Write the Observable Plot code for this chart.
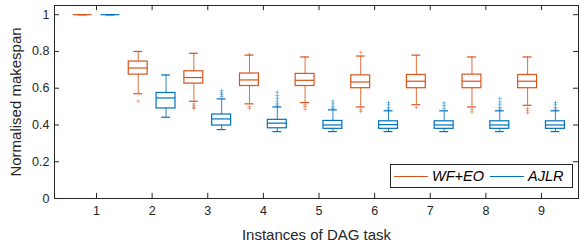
<!DOCTYPE html>
<html>
<head>
<meta charset="utf-8">
<script src="https://cdn.jsdelivr.net/npm/d3@7"></script>
<script src="https://cdn.jsdelivr.net/npm/@observablehq/plot@0.6"></script>
<style>
  html, body { margin: 0; padding: 0; background: #fff; }
  #wrap { position: relative; width: 581px; height: 248px; font-family: "Liberation Sans", Arial, sans-serif; }
  #legend { position: absolute; left: 390px; top: 164px; width: 183px; height: 24px; border: 1px solid #262626; background: #fff; box-sizing: border-box; display: flex; align-items: center; font-style: italic; font-size: 14.5px; color: #000; }
  #legend .ln { display: inline-block; width: 34px; height: 1px; margin-left: 3px; margin-right: 4px; }
</style>
</head>
<body>
<div id="wrap"></div>
<script>
const instances = [1, 2, 3, 4, 5, 6, 7, 8, 9];
const seriesNames = ["WF+EO", "AJLR"];
const seriesColors = ["#D95319", "#0072BD"];

// WF+EO box statistics
const wfLow = [1, 0.57, 0.529, 0.515, 0.522, 0.498, 0.51, 0.498, 0.507];
const wfQ1  = [1, 0.674, 0.625, 0.612, 0.612, 0.600, 0.600, 0.600, 0.600];
const wfMed = [1, 0.71, 0.658, 0.645, 0.643, 0.634, 0.638, 0.638, 0.638];
const wfQ3  = [1, 0.745, 0.692, 0.680, 0.678, 0.670, 0.672, 0.674, 0.672];
const wfHigh = [1, 0.80, 0.79, 0.78, 0.77, 0.775, 0.78, 0.77, 0.77];
const wfOutliers = [
  [2, 0.53],
  [3, 0.515], [3, 0.505], [3, 0.495], [3, 0.49],
  [4, 0.785], [4, 0.50], [4, 0.49],
  [5, 0.51], [5, 0.50], [5, 0.485],
  [6, 0.795], [6, 0.485], [6, 0.473],
  [7, 0.495],
  [8, 0.485], [8, 0.471],
  [9, 0.49], [9, 0.478], [9, 0.466]
];

// AJLR box statistics
const ajLow = [1, 0.442, 0.375, 0.364, 0.364, 0.364, 0.364, 0.364, 0.364];
const ajQ1  = [1, 0.49, 0.397, 0.382, 0.379, 0.379, 0.379, 0.379, 0.379];
const ajMed = [1, 0.547, 0.433, 0.41, 0.40, 0.402, 0.40, 0.40, 0.40];
const ajQ3  = [1, 0.574, 0.457, 0.428, 0.422, 0.42, 0.42, 0.42, 0.42];
const ajHigh = [1, 0.672, 0.542, 0.498, 0.482, 0.477, 0.477, 0.477, 0.477];
const ajOutliers = [
  [3, 0.587], [3, 0.575], [3, 0.565], [3, 0.555],
  [4, 0.578], [4, 0.56], [4, 0.545], [4, 0.53], [4, 0.515], [4, 0.505],
  [5, 0.53], [5, 0.515], [5, 0.50], [5, 0.49],
  [6, 0.522], [6, 0.51], [6, 0.495], [6, 0.485],
  [7, 0.52], [7, 0.505], [7, 0.49],
  [8, 0.543], [8, 0.525], [8, 0.51], [8, 0.495], [8, 0.485],
  [9, 0.522], [9, 0.51], [9, 0.495], [9, 0.485]
];

const yTicks = [0, 0.2, 0.4, 0.6, 0.8, 1];
const xTicks = instances;

// layout constants (data units)
const offsets = [-0.25, 0.25];
const boxHalf = 0.17;
const capHalf = 0.08;
const xDomain = [0.245, 9.665];
const yDomain = [0, 1.05];

const boxes = [];
const outliers = [];
[[wfLow, wfQ1, wfMed, wfQ3, wfHigh, wfOutliers], [ajLow, ajQ1, ajMed, ajQ3, ajHigh, ajOutliers]].forEach(([lo, q1, med, q3, hi, outs], s) => {
  instances.forEach((inst, i) => {
    boxes.push({series: seriesNames[s], x: inst + offsets[s], lo: lo[i], q1: q1[i], med: med[i], q3: q3[i], hi: hi[i]});
  });
  outs.forEach(([inst, v]) => outliers.push({series: seriesNames[s], x: inst + offsets[s], v}));
});

const color = {domain: seriesNames, range: seriesColors};
const axisColor = "#262626";
const tickLenX = 0.09;   // x units
const tickLenY = 0.028;  // y units

const plot = Plot.plot({
  width: 581,
  height: 248,
  marginLeft: 54,
  marginRight: 3,
  marginTop: 5,
  marginBottom: 50,
  style: {fontFamily: "'Liberation Sans', Arial, sans-serif", background: "#fff"},
  x: {domain: xDomain},
  y: {domain: yDomain},
  color,
  marks: [
    // whiskers
    Plot.ruleX(boxes, {x: "x", y1: "lo", y2: "q1", stroke: "series", strokeWidth: 1, strokeOpacity: 0.85}),
    Plot.ruleX(boxes, {x: "x", y1: "q3", y2: "hi", stroke: "series", strokeWidth: 1, strokeOpacity: 0.85}),
    // caps
    Plot.ruleY(boxes, {y: "lo", x1: d => d.x - capHalf, x2: d => d.x + capHalf, stroke: "series", strokeWidth: 1.2}),
    Plot.ruleY(boxes, {y: "hi", x1: d => d.x - capHalf, x2: d => d.x + capHalf, stroke: "series", strokeWidth: 1.2}),
    // boxes
    Plot.rect(boxes.filter(d => d.q3 > d.q1), {x1: d => d.x - boxHalf, x2: d => d.x + boxHalf, y1: "q1", y2: "q3", stroke: "series", fill: "white", strokeWidth: 1.2}),
    // medians
    Plot.ruleY(boxes, {y: "med", x1: d => d.x - boxHalf, x2: d => d.x + boxHalf, stroke: "series", strokeWidth: 1.2}),
    // outliers
    Plot.dot(outliers, {x: "x", y: "v", stroke: "series", symbol: "plus", r: 1.4, strokeWidth: 0.8, strokeOpacity: 0.55}),
    // frame
    Plot.frame({stroke: axisColor, strokeWidth: 1}),
    // inward ticks
    Plot.ruleX(xTicks, {x: d => d, y1: 0, y2: tickLenY, stroke: axisColor}),
    Plot.ruleX(xTicks, {x: d => d, y1: yDomain[1], y2: yDomain[1] - tickLenY, stroke: axisColor}),
    Plot.ruleY(yTicks, {y: d => d, x1: xDomain[0], x2: xDomain[0] + tickLenX, stroke: axisColor}),
    Plot.ruleY(yTicks, {y: d => d, x1: xDomain[1], x2: xDomain[1] - tickLenX, stroke: axisColor}),
    // axes labels
    Plot.axisX({ticks: xTicks, tickSize: 0, tickPadding: 8, fontSize: 12.5, color: axisColor,
      label: "Instances of DAG task", labelAnchor: "center", labelOffset: 41, labelArrow: "none", tickFormat: d => String(d)}),
    Plot.axisY({ticks: yTicks, tickSize: 0, tickPadding: 5, fontSize: 12.5, color: axisColor,
      label: "Normalised makespan", labelAnchor: "center", labelOffset: 44, labelArrow: "none", tickFormat: d => String(d)})
  ]
});
plot.querySelectorAll('[aria-label="x-axis label"] text, [aria-label="y-axis label"] text').forEach(t => t.setAttribute("font-size", "15px"));
const wrap = document.getElementById("wrap");
wrap.appendChild(plot);

const legend = document.createElement("div");
legend.id = "legend";
seriesNames.forEach((name, i) => {
  const ln = document.createElement("span");
  ln.className = "ln";
  ln.style.backgroundColor = seriesColors[i];
  legend.appendChild(ln);
  const tx = document.createElement("span");
  tx.textContent = name;
  tx.style.marginRight = "3px";
  legend.appendChild(tx);
});
wrap.appendChild(legend);
</script>
</body>
</html>
